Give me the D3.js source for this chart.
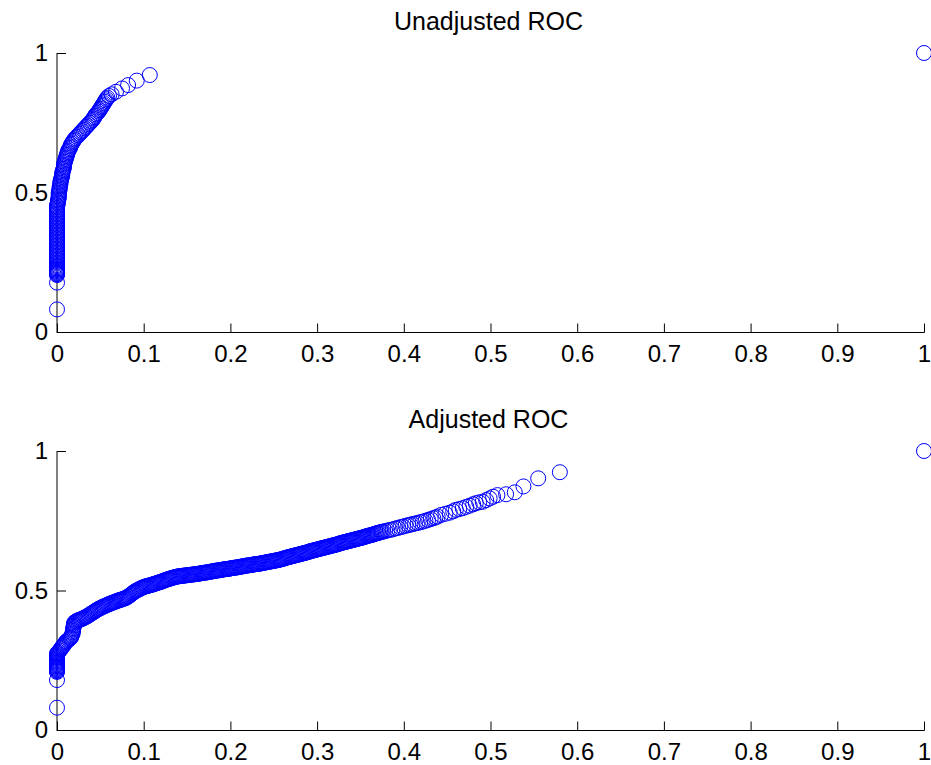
<!DOCTYPE html>
<html>
<head>
<meta charset="utf-8">
<script src="https://cdn.jsdelivr.net/npm/d3@7"></script>
<style>
  html, body { margin: 0; padding: 0; background: #fff; }
  svg { display: block; }
  text { font-family: Arial, "Liberation Sans", Helvetica, sans-serif; fill: #000; }
</style>
</head>
<body>
<svg id="chart" width="931" height="765"></svg>
<script>
// Panel titles
const titles = ["Unadjusted ROC", "Adjusted ROC"];

// Tick values shared by both panels
const xTicks = [0, 0.1, 0.2, 0.3, 0.4, 0.5, 0.6, 0.7, 0.8, 0.9, 1];
const yTicks = [0, 0.5, 1];

// Unadjusted ROC points: [false positive rate, true positive rate]
const unadjustedPoints = [
  [0, 0.081], [0, 0.177],
  [0, 0.204], [0, 0.207], [0, 0.210], [0, 0.213], [0, 0.216], [0, 0.219], [0, 0.222], [0, 0.225],
  [0, 0.228], [0, 0.232], [0, 0.236], [0, 0.240], [0, 0.245], [0, 0.250], [0, 0.255], [0, 0.260],
  [0, 0.265], [0, 0.270], [0, 0.275], [0, 0.280], [0, 0.285], [0, 0.290], [0, 0.295], [0, 0.300],
  [0, 0.305], [0, 0.310], [0, 0.315], [0, 0.320], [0, 0.325], [0, 0.330], [0, 0.335], [0, 0.340],
  [0, 0.345], [0, 0.350], [0, 0.355], [0, 0.360], [0, 0.365], [0, 0.370], [0, 0.375], [0, 0.380],
  [0, 0.385], [0, 0.390], [0, 0.395], [0, 0.400], [0, 0.405], [0, 0.410], [0, 0.415], [0, 0.420],
  [0, 0.425], [0, 0.430], [0, 0.435], [0, 0.440], [0, 0.445], [0, 0.450], [0, 0.455],
  [0.001, 0.460], [0.001, 0.465], [0.001, 0.470], [0.0015, 0.475], [0.002, 0.480], [0.002, 0.485],
  [0.002, 0.490], [0.002, 0.495], [0.002, 0.500], [0.0025, 0.505], [0.003, 0.510], [0.003, 0.515],
  [0.003, 0.520], [0.0035, 0.525], [0.004, 0.530], [0.004, 0.535], [0.004, 0.540], [0.0045, 0.545],
  [0.005, 0.550], [0.0055, 0.555], [0.006, 0.560], [0.006, 0.565], [0.006, 0.570], [0.0065, 0.575],
  [0.007, 0.580], [0.0075, 0.585], [0.008, 0.590], [0.008, 0.595], [0.008, 0.600], [0.0085, 0.605],
  [0.009, 0.610], [0.0095, 0.615], [0.010, 0.620], [0.0105, 0.625], [0.011, 0.630], [0.0115, 0.635],
  [0.012, 0.640], [0.0125, 0.645], [0.013, 0.650], [0.014, 0.655], [0.015, 0.660], [0.0155, 0.665],
  [0.016, 0.670], [0.017, 0.675], [0.018, 0.680], [0.019, 0.685], [0.020, 0.690], [0.0215, 0.695],
  [0.023, 0.700], [0.0245, 0.705], [0.026, 0.710], [0.0275, 0.715], [0.029, 0.720], [0.0305, 0.725],
  [0.032, 0.730], [0.0335, 0.735], [0.035, 0.740], [0.0365, 0.745], [0.038, 0.750], [0.0395, 0.755],
  [0.041, 0.760], [0.042, 0.765], [0.043, 0.770], [0.044, 0.775], [0.045, 0.780], [0.0465, 0.785],
  [0.048, 0.790], [0.049, 0.795], [0.050, 0.800], [0.051, 0.805], [0.052, 0.810], [0.053, 0.815],
  [0.054, 0.820], [0.055, 0.825], [0.056, 0.830], [0.057, 0.835], [0.058, 0.840], [0.060, 0.846],
  [0.063, 0.852], [0.068, 0.861], [0.075, 0.873], [0.082, 0.885], [0.092, 0.901], [0.107, 0.921],
  [1, 1]
];

// Adjusted ROC points: [false positive rate, true positive rate]
const adjustedPoints = [
  [0, 0.080], [0, 0.179],
  [0, 0.208], [0, 0.211], [0, 0.214], [0, 0.217], [0, 0.220], [0, 0.223], [0, 0.226], [0, 0.229],
  [0, 0.232], [0, 0.235], [0, 0.238], [0, 0.241], [0, 0.244], [0, 0.247], [0, 0.250], [0, 0.254],
  [0, 0.258], [0, 0.262], [0, 0.266], [0, 0.270], [0, 0.274],
  [0.001, 0.277], [0.002, 0.280], [0.003, 0.285], [0.0045, 0.290], [0.005, 0.294], [0.006, 0.298],
  [0.007, 0.301], [0.008, 0.305], [0.009, 0.310], [0.010, 0.315], [0.011, 0.318], [0.0125, 0.322],
  [0.014, 0.325], [0.015, 0.328], [0.016, 0.331], [0.0165, 0.335], [0.017, 0.340], [0.018, 0.345],
  [0.018, 0.350], [0.0185, 0.355], [0.0185, 0.360], [0.019, 0.365], [0.019, 0.370], [0.0195, 0.375],
  [0.0195, 0.380],
  [0.02000, 0.385], [0.02125, 0.388], [0.02250, 0.390], [0.02375, 0.392], [0.02500, 0.394],
  [0.02625, 0.395], [0.02750, 0.397], [0.02875, 0.398], [0.03000, 0.400], [0.03125, 0.402],
  [0.03250, 0.404], [0.03375, 0.406], [0.03500, 0.408], [0.03625, 0.411], [0.03750, 0.413],
  [0.03875, 0.416], [0.04000, 0.418], [0.04125, 0.421], [0.04250, 0.423], [0.04375, 0.426],
  [0.04500, 0.428], [0.04625, 0.431], [0.04750, 0.433], [0.04875, 0.435], [0.05000, 0.437],
  [0.05125, 0.439], [0.05250, 0.441], [0.05375, 0.443], [0.05500, 0.444], [0.05625, 0.446],
  [0.05750, 0.448], [0.05875, 0.450], [0.06000, 0.451], [0.06125, 0.453], [0.06250, 0.454],
  [0.06375, 0.456], [0.06500, 0.457], [0.06625, 0.459], [0.06750, 0.460], [0.06875, 0.462],
  [0.07000, 0.463], [0.07125, 0.465], [0.07250, 0.466], [0.07375, 0.467], [0.07500, 0.468],
  [0.07625, 0.470], [0.07750, 0.471], [0.07875, 0.473], [0.08000, 0.474], [0.08125, 0.477],
  [0.08250, 0.479], [0.08375, 0.482], [0.08500, 0.485], [0.08625, 0.488], [0.08750, 0.491],
  [0.08875, 0.494], [0.09000, 0.497], [0.09125, 0.499], [0.09250, 0.501], [0.09375, 0.503],
  [0.09500, 0.505], [0.09625, 0.507], [0.09750, 0.509], [0.09875, 0.511], [0.10000, 0.512],
  [0.10125, 0.514], [0.10250, 0.515], [0.10375, 0.516], [0.10500, 0.517], [0.10625, 0.518],
  [0.10750, 0.519], [0.10875, 0.520], [0.11000, 0.521], [0.11125, 0.523], [0.11250, 0.524],
  [0.11375, 0.525], [0.11500, 0.526], [0.11625, 0.528], [0.11750, 0.529], [0.11875, 0.530],
  [0.12000, 0.531], [0.12125, 0.533], [0.12250, 0.534], [0.12375, 0.536], [0.12500, 0.537],
  [0.12625, 0.539], [0.12750, 0.540], [0.12875, 0.541], [0.13000, 0.542], [0.13125, 0.544],
  [0.13250, 0.545], [0.13375, 0.546], [0.13500, 0.547], [0.13625, 0.548], [0.13750, 0.549],
  [0.13875, 0.550], [0.14000, 0.551], [0.14125, 0.551], [0.14250, 0.552], [0.14375, 0.552],
  [0.14500, 0.553], [0.14625, 0.553], [0.14750, 0.554], [0.14875, 0.554], [0.15000, 0.555],
  [0.15125, 0.555], [0.15250, 0.556], [0.15375, 0.556], [0.15500, 0.557], [0.15625, 0.557],
  [0.15750, 0.558], [0.15875, 0.558], [0.16000, 0.559], [0.16125, 0.559], [0.16250, 0.560],
  [0.16375, 0.560], [0.16500, 0.561], [0.16625, 0.562], [0.16750, 0.563], [0.16875, 0.563],
  [0.17000, 0.564], [0.17125, 0.564], [0.17250, 0.565], [0.17375, 0.565], [0.17500, 0.566],
  [0.17625, 0.567], [0.17750, 0.568], [0.17875, 0.568], [0.18000, 0.569], [0.18125, 0.570],
  [0.18250, 0.571], [0.18375, 0.571], [0.18500, 0.572], [0.18625, 0.572], [0.18750, 0.573],
  [0.18875, 0.573], [0.19000, 0.574], [0.19125, 0.575], [0.19250, 0.576], [0.19375, 0.576],
  [0.19500, 0.577], [0.19625, 0.577], [0.19750, 0.578], [0.19875, 0.578], [0.20000, 0.579],
  [0.20125, 0.580], [0.20250, 0.581], [0.20375, 0.581], [0.20500, 0.582], [0.20625, 0.582],
  [0.20750, 0.583], [0.20875, 0.583], [0.21000, 0.584], [0.21125, 0.585], [0.21250, 0.586],
  [0.21375, 0.586], [0.21500, 0.587], [0.21625, 0.588], [0.21750, 0.589], [0.21875, 0.589],
  [0.22000, 0.590], [0.22125, 0.590], [0.22250, 0.591], [0.22375, 0.591], [0.22500, 0.592],
  [0.22625, 0.593], [0.22750, 0.594], [0.22875, 0.594], [0.23000, 0.595], [0.23125, 0.595],
  [0.23250, 0.596], [0.23375, 0.596], [0.23500, 0.597], [0.23625, 0.598], [0.23750, 0.599],
  [0.23875, 0.599], [0.24000, 0.600], [0.24125, 0.601], [0.24250, 0.602], [0.24375, 0.602],
  [0.24500, 0.603], [0.24625, 0.604], [0.24750, 0.605], [0.24875, 0.605], [0.25000, 0.606],
  [0.25125, 0.607], [0.25250, 0.608], [0.25375, 0.608], [0.25500, 0.609], [0.25625, 0.610],
  [0.25750, 0.611], [0.25875, 0.612], [0.26000, 0.613], [0.26125, 0.614], [0.26250, 0.616],
  [0.26375, 0.617], [0.26500, 0.618], [0.26625, 0.619], [0.26750, 0.620], [0.26875, 0.621],
  [0.27000, 0.622], [0.27125, 0.623], [0.27250, 0.624], [0.27375, 0.625], [0.27500, 0.626],
  [0.27625, 0.627], [0.27750, 0.628], [0.27875, 0.629], [0.28000, 0.630], [0.28125, 0.631],
  [0.28250, 0.632], [0.28375, 0.633], [0.28500, 0.634], [0.28625, 0.635], [0.28750, 0.636],
  [0.28875, 0.637], [0.29000, 0.638], [0.29125, 0.640], [0.29250, 0.641], [0.29375, 0.642],
  [0.29500, 0.643], [0.29625, 0.644], [0.29750, 0.645], [0.29875, 0.646], [0.30000, 0.647],
  [0.30125, 0.648], [0.30250, 0.649], [0.30375, 0.650], [0.30500, 0.651], [0.30625, 0.652],
  [0.30750, 0.653], [0.30875, 0.654], [0.31000, 0.655], [0.31125, 0.656], [0.31250, 0.657],
  [0.31375, 0.658], [0.31500, 0.659], [0.31625, 0.660], [0.31750, 0.661], [0.31875, 0.662],
  [0.32000, 0.663], [0.32125, 0.664], [0.32250, 0.665], [0.32375, 0.666], [0.32500, 0.667],
  [0.32625, 0.669], [0.32750, 0.670], [0.32875, 0.671], [0.33000, 0.672], [0.33125, 0.673],
  [0.33250, 0.674], [0.33375, 0.675], [0.33500, 0.676], [0.33625, 0.677], [0.33750, 0.678],
  [0.33875, 0.679], [0.34000, 0.680], [0.34125, 0.681], [0.34250, 0.682], [0.34375, 0.683],
  [0.34500, 0.684], [0.34625, 0.685], [0.34750, 0.686], [0.34875, 0.687], [0.35000, 0.688],
  [0.35125, 0.689], [0.35250, 0.690], [0.35375, 0.691], [0.35500, 0.692], [0.35625, 0.694],
  [0.35750, 0.695], [0.35875, 0.696], [0.36000, 0.697], [0.36125, 0.698], [0.36250, 0.699],
  [0.36375, 0.700], [0.36500, 0.701], [0.36625, 0.703], [0.36750, 0.704], [0.36875, 0.705],
  [0.37000, 0.706], [0.37150, 0.707], [0.37300, 0.709], [0.37450, 0.710], [0.37600, 0.711],
  [0.3785, 0.713], [0.381, 0.715], [0.384, 0.717], [0.387, 0.719], [0.390, 0.722], [0.393, 0.724],
  [0.396, 0.727], [0.399, 0.729], [0.402, 0.732], [0.405, 0.734], [0.4075, 0.736], [0.410, 0.738],
  [0.413, 0.740], [0.416, 0.742], [0.419, 0.745], [0.422, 0.747], [0.425, 0.750], [0.428, 0.753],
  [0.431, 0.756], [0.434, 0.759], [0.4365, 0.762], [0.439, 0.765], [0.443, 0.771], [0.448, 0.775],
  [0.453, 0.779], [0.457, 0.784], [0.460, 0.789], [0.464, 0.792], [0.468, 0.795], [0.472, 0.800],
  [0.476, 0.804], [0.480, 0.809], [0.483, 0.813], [0.487, 0.816], [0.491, 0.818], [0.495, 0.824],
  [0.499, 0.830], [0.503, 0.836], [0.508, 0.842], [0.518, 0.845], [0.528, 0.852], [0.538, 0.873],
  [0.555, 0.902], [0.580, 0.924],
  [1, 1]
];

const panels = [
  { title: titles[0], points: unadjustedPoints, top: 53, bottom: 332 },
  { title: titles[1], points: adjustedPoints, top: 451, bottom: 730 }
];

const svg = d3.select("#chart");
const left = 57, right = 924;
const markerColor = "#0000ff";
const fontStack = "Arial, 'Liberation Sans', Helvetica, sans-serif";

panels.forEach(p => {
  const x = d3.scaleLinear().domain([0, 1]).range([left, right]);
  const y = d3.scaleLinear().domain([0, 1]).range([p.bottom, p.top]);
  const g = svg.append("g");

  // bottom axis with inward ticks
  const xAxis = d3.axisBottom(x).tickValues(xTicks)
    .tickFormat(d3.format("~g")).tickSizeInner(-9).tickSizeOuter(0).tickPadding(12);
  const gx = g.append("g").attr("transform", `translate(0,${p.bottom + 0.5})`).call(xAxis);
  gx.select(".domain").attr("stroke", "#000").attr("d", `M${left},0H${right + 0.5}`);
  gx.selectAll(".tick line").attr("stroke", "#000");
  gx.selectAll(".tick text").attr("font-size", 24).attr("dy", "0.71em")
    .attr("font-family", fontStack);

  // left axis with inward ticks
  const yAxis = d3.axisLeft(y).tickValues(yTicks)
    .tickFormat(d3.format("~g")).tickSizeInner(-9).tickSizeOuter(0).tickPadding(9);
  const gy = g.append("g").attr("transform", `translate(${left},0)`).call(yAxis);
  gy.select(".domain").attr("stroke", "#000").attr("d", `M0,${p.top}V${p.bottom + 1}`);
  gy.selectAll(".tick line").attr("stroke", "#000");
  gy.selectAll(".tick text").attr("font-size", 24)
    .attr("font-family", fontStack);

  // title
  g.append("text")
    .attr("x", (left + right) / 2 - 2)
    .attr("y", p.top - 23)
    .attr("text-anchor", "middle")
    .attr("font-size", 25)
    .attr("font-family", fontStack)
    .text(p.title);

  // ROC points as open circles
  g.append("g").selectAll("circle")
    .data(p.points)
    .join("circle")
    .attr("cx", d => x(d[0]))
    .attr("cy", d => y(d[1]))
    .attr("r", 7.5)
    .attr("fill", "none")
    .attr("stroke", markerColor)
    .attr("stroke-width", 1);
});
</script>
</body>
</html>
